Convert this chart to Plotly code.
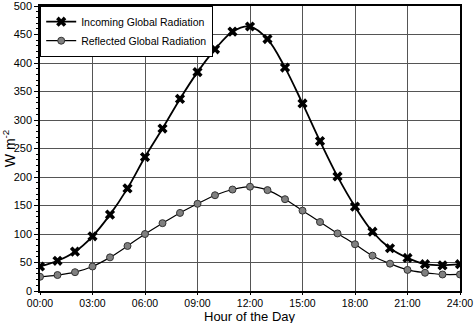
import plotly.graph_objects as go

hours = list(range(25))
incoming = [43, 53, 69, 96, 134, 180, 235, 285, 337, 384, 424, 455, 464, 442, 392, 329, 263, 201, 148, 104, 75, 58, 47, 45, 47]
reflected = [25, 28, 33, 43, 59, 79, 100, 119, 137, 153, 168, 178, 183, 177, 161, 141, 121, 101, 82, 62, 48, 37, 32, 29, 29]
tick_vals = [0, 3, 6, 9, 12, 15, 18, 21, 24]
tick_text = ["00:00", "03:00", "06:00", "09:00", "12:00", "15:00", "18:00", "21:00", "24:00"]
y_ticks = [0, 50, 100, 150, 200, 250, 300, 350, 400, 450, 500]

font = "Liberation Sans, Arial, sans-serif"

fig = go.Figure()
fig.add_trace(go.Scatter(
    x=hours, y=incoming, mode="lines+markers", name="Incoming Global Radiation",
    line=dict(color="black", width=1.8, shape="spline"),
    marker=dict(symbol="x", size=9, color="black", line=dict(width=0)),
))
fig.add_trace(go.Scatter(
    x=hours, y=reflected, mode="lines+markers", name="Reflected Global Radiation",
    line=dict(color="black", width=1.2, shape="spline"),
    marker=dict(symbol="circle", size=7, color="#808080", line=dict(color="#333333", width=1)),
))

fig.add_annotation(
    text="Hour of the Day", xref="paper", yref="paper", x=0.5, y=-0.09,
    xanchor="center", yanchor="middle", showarrow=False,
    font=dict(size=13, family=font, color="black"),
)

fig.update_layout(
    width=474, height=323,
    margin=dict(l=40, r=14, t=6, b=32),
    paper_bgcolor="white", plot_bgcolor="white",
    font=dict(family=font, size=11, color="black"),
    showlegend=True,
    legend=dict(
        x=0, y=1, xanchor="left", yanchor="top",
        bgcolor="white", bordercolor="black", borderwidth=1.2,
        font=dict(size=10.5, family=font),
        itemwidth=30, tracegroupgap=0,
    ),
    xaxis=dict(
        range=[0, 24], tickvals=tick_vals, ticktext=tick_text,
        showgrid=True, gridcolor="#555555", gridwidth=1,
        showline=True, linecolor="black", linewidth=1.5, mirror=True,
        ticks="outside", ticklen=2, tickcolor="black",
        tickfont=dict(size=10.5),
        zeroline=False, automargin=False,
    ),
    yaxis=dict(
        range=[0, 500], tickvals=y_ticks, ticklabeloverflow="allow",
        showgrid=True, gridcolor="#555555", gridwidth=1,
        showline=True, linecolor="black", linewidth=1.5, mirror=True,
        ticks="outside", ticklen=4, tickcolor="black",
        minor=dict(dtick=10, ticks="outside", ticklen=2, tickcolor="black", showgrid=False),
        title=dict(text="W m<sup>-2</sup>", font=dict(size=14)),
        zeroline=False, automargin=False,
    ),
)

fig.write_html("out.html")
